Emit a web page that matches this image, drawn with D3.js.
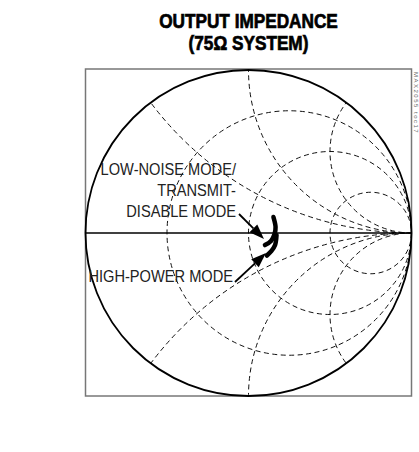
<!DOCTYPE html>
<html>
<head>
<meta charset="utf-8">
<script src="https://d3js.org/d3.v7.min.js"></script>
<style>
  body { margin: 0; background: #fff; }
  text { font-family: "Liberation Sans Narrow", "Liberation Sans", Arial, sans-serif; }
</style>
</head>
<body>
<svg width="419" height="452"></svg>
<script>
// Smith chart grid (normalised to 75 ohm)
const resistances = [1 / 3, 1, 3];
const reactances = [0.5, 1, 2, -0.5, -1, -2];

// measured impedance loci, as reflection coefficient (re, im)
const lowNoise = [[0.153, 0.098], [0.166, 0.037], [0.160, -0.006], [0.138, -0.049], [0.101, -0.074]];
const highPower = [[0.172, -0.012], [0.163, -0.074], [0.141, -0.110], [0.113, -0.138]];

const titleLines = ["OUTPUT IMPEDANCE", "(75\u03A9 SYSTEM)"];
const labelLowNoise = ["LOW-NOISE MODE/", "TRANSMIT-", "DISABLE MODE"];
const labelHighPower = ["HIGH-POWER MODE"];
// arrow tips, reflection coefficient
const tipLowNoise = [0.095, -0.037];
const tipHighPower = [0.107, -0.123];

const cx = 248.5, cy = 233, R = 163;
const squeeze = 0.86;   // the original uses a condensed face

const svg = d3.select("svg");

const x = d3.scaleLinear().domain([-1, 1]).range([cx - R, cx + R]);
const y = d3.scaleLinear().domain([-1, 1]).range([cy + R, cy - R]);

function condense(sel) {
    sel.each(function () {
        const n = this.getComputedTextLength();
        d3.select(this).attr("textLength", n * squeeze).attr("lengthAdjust", "spacingAndGlyphs");
    });
}

// title (heavy condensed in the original, so add a thin stroke)
svg.append("g")
    .selectAll("text")
    .data(titleLines)
    .enter()
    .append("text")
    .attr("x", cx)
    .attr("y", (d, i) => 28 + i * 22)
    .attr("text-anchor", "middle")
    .style("font-weight", "bold")
    .style("font-size", "20px")
    .attr("stroke", "#000")
    .attr("stroke-width", 0.7)
    .text(d => d)
    .call(condense);

// frame
svg.append("rect")
    .attr("x", x(-1))
    .attr("y", y(1) - 1)
    .attr("width", x(1) - x(-1))
    .attr("height", y(-1) - y(1) + 1)
    .attr("fill", "none")
    .attr("stroke", "#777")
    .attr("stroke-width", 1.5);

svg.append("text")
    .attr("transform", "translate(414,72) rotate(90)")
    .style("font-size", "6px")
    .style("letter-spacing", "1.5px")
    .attr("fill", "#666")
    .text("MAX2055 toc17");

svg.append("clipPath")
    .attr("id", "unit")
    .append("circle")
    .attr("cx", x(0))
    .attr("cy", y(0))
    .attr("r", R);

const grid = svg.append("g")
    .attr("clip-path", "url(#unit)")
    .attr("fill", "none")
    .attr("stroke", "#111")
    .attr("stroke-width", 1)
    .attr("stroke-dasharray", "5,3.5");

grid.selectAll(".rc")
    .data(resistances)
    .enter()
    .append("circle")
    .attr("class", "rc")
    .attr("cx", d => x(d / (1 + d)))
    .attr("cy", y(0))
    .attr("r", d => x(1 / (1 + d)) - x(0));

grid.selectAll(".xc")
    .data(reactances)
    .enter()
    .append("circle")
    .attr("class", "xc")
    .attr("cx", x(1))
    .attr("cy", d => y(1 / d))
    .attr("r", d => x(1 / Math.abs(d)) - x(0));

// outer circle and real axis
svg.append("circle")
    .attr("cx", x(0))
    .attr("cy", y(0))
    .attr("r", R)
    .attr("fill", "none")
    .attr("stroke", "#000")
    .attr("stroke-width", 1.8);

svg.append("line")
    .attr("x1", x(-1))
    .attr("x2", x(1))
    .attr("y1", y(0))
    .attr("y2", y(0))
    .attr("stroke", "#000")
    .attr("stroke-width", 1.6);

// loci
const line = d3.line()
    .x(d => x(d[0]))
    .y(d => y(d[1]))
    .curve(d3.curveCatmullRom);

svg.selectAll(".locus")
    .data([lowNoise, highPower])
    .enter()
    .append("path")
    .attr("class", "locus")
    .attr("d", line)
    .attr("fill", "none")
    .attr("stroke", "#000")
    .attr("stroke-width", 4.5)
    .attr("stroke-linecap", "round");

// labels
function label(lines, right, base, lh) {
    svg.append("g")
        .selectAll("text")
        .data(lines)
        .enter()
        .append("text")
        .attr("x", right)
        .attr("y", (d, i) => base + i * lh)
        .attr("text-anchor", "end")
        .style("font-size", "17px")
        .attr("fill", "#222")
        .text(d => d)
        .call(condense);
}
label(labelLowNoise, 236, 175, 21);
label(labelHighPower, 233, 282, 21);

function arrow(x0, y0, tip) {
    const tx = x(tip[0]), ty = y(tip[1]);
    const a = Math.atan2(ty - y0, tx - x0);
    const len = 15, w = 5.5;
    const bx = tx - len * Math.cos(a), by = ty - len * Math.sin(a);
    svg.append("line")
        .attr("x1", x0).attr("y1", y0)
        .attr("x2", bx).attr("y2", by)
        .attr("stroke", "#000")
        .attr("stroke-width", 1.8);
    svg.append("path")
        .attr("d", d3.line()([
            [tx, ty],
            [bx + w * Math.sin(a), by - w * Math.cos(a)],
            [bx - w * Math.sin(a), by + w * Math.cos(a)]
        ]) + "Z")
        .attr("fill", "#000");
}
arrow(239, 214, tipLowNoise);
arrow(235, 282, tipHighPower);
</script>
</body>
</html>
